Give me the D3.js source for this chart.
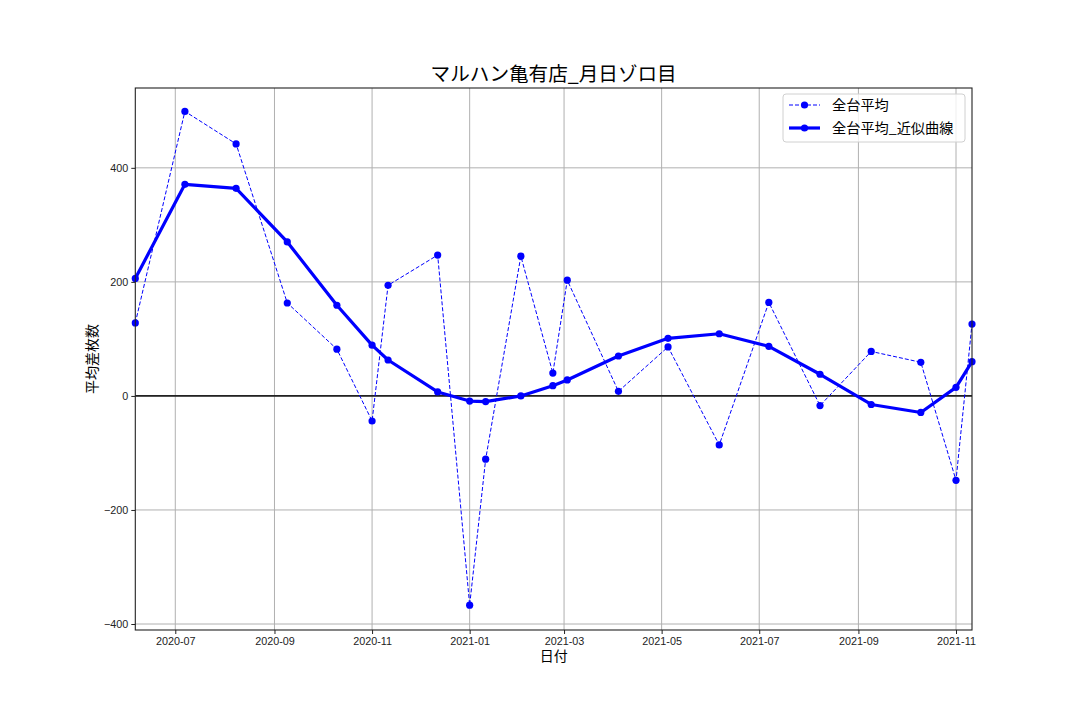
<!DOCTYPE html>
<html>
<head>
<meta charset="utf-8">
<script src="https://cdn.jsdelivr.net/npm/d3@7"></script>
<style>
  html, body { margin: 0; padding: 0; background: #fff; }
  svg { display: block; font-family: "Noto Sans CJK JP", "Noto Sans", sans-serif; }
</style>
</head>
<body>
<svg id="chart" width="1080" height="720"></svg>
<script>
const dates = ["2020-06-06","2020-07-07","2020-08-08","2020-09-09","2020-10-10","2020-11-01","2020-11-11","2020-12-12",
  "2021-01-01","2021-01-11","2021-02-02","2021-02-22","2021-03-03","2021-04-04","2021-05-05","2021-06-06",
  "2021-07-07","2021-08-08","2021-09-09","2021-10-10","2021-11-01","2021-11-11"];
const avgValues = [128, 499, 442, 163, 82, -44, 194, 247, -367, -111, 245, 40, 203, 8, 86, -86, 164, -17, 78, 59, -148, 126];
const smoothValues = [206, 371, 364, 270, 159, 89, 63, 7, -9, -10, 0, 18, 28, 70, 101, 109, 87, 38, -15, -29, 15, 60];
const yTicks = [-400, -200, 0, 200, 400];
const seriesNames = ["全台平均", "全台平均_近似曲線"];
const titleText = "マルハン亀有店_月日ゾロ目";
const xLabel = "日付";
const yLabel = "平均差枚数";

const parse = d3.utcParse("%Y-%m-%d");
const dts = dates.map(parse);

const svg = d3.select("#chart");
const L = 135.3, R = 972, T = 88, B = 630;

const x = d3.scaleUtc().domain([dts[0], dts[dts.length - 1]]).range([L, R]);
const y = d3.scaleLinear().domain([-410.5, 540]).range([B, T]);

const xTicks = d3.utcMonth.every(2).range(d3.utcMonth.ceil(dts[0]), dts[dts.length - 1]);
const xTickVals = xTicks.filter(d => d.getUTCMonth() % 2 === 0);

// grid
const grid = svg.append("g");
grid.selectAll("line.gx").data(xTickVals).join("line")
  .attr("x1", d => x(d)).attr("x2", d => x(d)).attr("y1", T).attr("y2", B)
  .attr("stroke", "#b0b0b0").attr("stroke-width", 1);
grid.selectAll("line.gy").data(yTicks).join("line")
  .attr("x1", L).attr("x2", R).attr("y1", d => y(d)).attr("y2", d => y(d))
  .attr("stroke", "#b0b0b0").attr("stroke-width", 1);

// zero line
svg.append("line").attr("x1", L).attr("x2", R).attr("y1", y(0)).attr("y2", y(0))
  .attr("stroke", "#222").attr("stroke-width", 1.8);

const plot = svg.append("g");
const lineGen = d3.line().x((d, i) => x(dts[i])).y(d => y(d));
plot.append("path").datum(avgValues).attr("d", lineGen)
  .attr("fill", "none").attr("stroke", "#0000ff").attr("stroke-width", 1)
  .attr("stroke-dasharray", "4,2");
plot.selectAll("circle.a").data(avgValues).join("circle")
  .attr("cx", (d, i) => x(dts[i])).attr("cy", d => y(d)).attr("r", 3.6).attr("fill", "#0000ff");
plot.append("path").datum(smoothValues).attr("d", lineGen)
  .attr("fill", "none").attr("stroke", "#0000ff").attr("stroke-width", 3.2)
  .attr("stroke-linejoin", "round");
plot.selectAll("circle.s").data(smoothValues).join("circle")
  .attr("cx", (d, i) => x(dts[i])).attr("cy", d => y(d)).attr("r", 3.6).attr("fill", "#0000ff");

// axes
const xAxis = d3.axisBottom(x).tickValues(xTickVals).tickFormat(d3.utcFormat("%Y-%m")).tickSize(4).tickPadding(3);
const yAxis = d3.axisLeft(y).tickValues(yTicks).tickFormat(d => d < 0 ? "\u2212" + Math.abs(d) : d).tickSize(4).tickPadding(3);
const gx = svg.append("g").attr("transform", `translate(0,${B})`).call(xAxis);
const gy = svg.append("g").attr("transform", `translate(${L},0)`).call(yAxis);
[gx, gy].forEach(g => {
  g.select(".domain").remove();
  g.selectAll("text").attr("font-size", 10.8).attr("fill", "#222").attr("font-family", "'Liberation Sans', Arial, sans-serif");
  g.selectAll("line").attr("stroke", "#222");
});

// frame
svg.append("rect").attr("x", L).attr("y", T).attr("width", R - L).attr("height", B - T)
  .attr("fill", "none").attr("stroke", "#222").attr("stroke-width", 1.1);

// title and labels
svg.append("text").attr("x", (L + R) / 2).attr("y", 81).attr("text-anchor", "middle")
  .attr("font-size", 19.6).attr("fill", "#000").text(titleText);
svg.append("text").attr("x", (L + R) / 2).attr("y", 661).attr("text-anchor", "middle")
  .attr("font-size", 14).attr("fill", "#000").text(xLabel);
svg.append("text").attr("transform", `translate(97,${(T + B) / 2}) rotate(-90)`).attr("text-anchor", "middle")
  .attr("font-size", 14).attr("fill", "#000").text(yLabel);

// legend
const lg = svg.append("g");
lg.append("rect").attr("x", 783).attr("y", 94).attr("width", 182).attr("height", 48).attr("rx", 3)
  .attr("fill", "rgba(255,255,255,0.8)").attr("stroke", "#d0d0d0").attr("stroke-width", 1);
const items = [{dash: "4,2", w: 1}, {dash: null, w: 3.2}];
items.forEach((it, i) => {
  const yy = 105 + i * 23;
  lg.append("line").attr("x1", 789).attr("x2", 820).attr("y1", yy).attr("y2", yy)
    .attr("stroke", "#0000ff").attr("stroke-width", it.w).attr("stroke-dasharray", it.dash);
  lg.append("circle").attr("cx", 804.5).attr("cy", yy).attr("r", 3.6).attr("fill", "#0000ff");
  lg.append("text").attr("x", 832).attr("y", yy + 5).attr("font-size", 14.2).attr("fill", "#000").text(seriesNames[i]);
});
</script>
</body>
</html>
